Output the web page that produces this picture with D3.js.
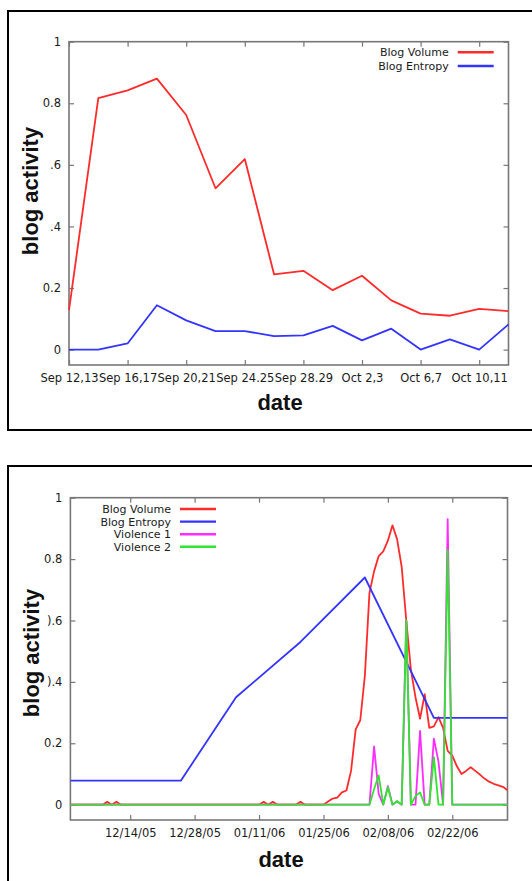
<!DOCTYPE html>
<html>
<head>
<meta charset="utf-8">
<script src="https://cdn.jsdelivr.net/npm/d3@7"></script>
<style>
  body { margin: 0; background: #fff; }
  .tick text { font-family: "DejaVu Sans", sans-serif; font-size: 11.5px; fill: #1a1a1a; }
  .tick line { stroke: #777; stroke-width: 1.2; }
  .legend text { font-family: "DejaVu Sans", sans-serif; font-size: 11px; fill: #1a1a1a; }
  .title { font-family: "Liberation Sans", Arial, sans-serif; font-weight: bold; font-size: 22px; fill: #111; }
</style>
</head>
<body>
<script>
// ---- top chart data (one point per two-day bin) ----
var topVolume  = [0.128, 0.817, 0.842, 0.88, 0.762, 0.524, 0.619, 0.244, 0.256, 0.193, 0.24, 0.16, 0.117, 0.11, 0.132, 0.125];
var topEntropy = [0, 0, 0.02, 0.144, 0.095, 0.06, 0.06, 0.044, 0.046, 0.077, 0.03, 0.068, 0, 0.033, 0, 0.082];
var topTickLabels = ["Sep 12,13", "Sep 16,17", "Sep 20,21", "Sep 24.25", "Sep 28.29", "Oct 2,3", "Oct 6,7", "Oct 10,11"];
var topYLabels = ["0", "0.2", ".4", ".6", "0.8", "1"];

// ---- bottom chart data (daily from 12/01/05) ----
var volDec = [0,0,0,0,0,0,0,0,0.009,0,0.009,0,0,0,0,0,0,0,0,0,0,0,0,0,0,0,0,0,0,0,0];
var volJan = [0,0,0,0,0,0,0,0,0,0,0,0.009,0,0.009,0,0,0,0,0,0.009,0,0,0,0,0,0.01,0.02,0.023,0.04,0.046,0.11];
var volFeb = [0.245,0.275,0.42,0.69,0.76,0.81,0.825,0.86,0.91,0.865,0.775,0.6,0.44,0.35,0.28,0.36,0.25,0.255,0.285,0.25,0.175,0.16,0.125,0.1,0.11,0.122,0.11,0.098];
var volMar = [0.085,0.075,0.068,0.063,0.058,0.047];

var vio1Dec = [0,0,0,0,0,0,0,0,0,0,0,0,0,0,0,0,0,0,0,0,0,0,0,0,0,0,0,0,0,0,0];
var vio1Jan = [0,0,0,0,0,0,0,0,0,0,0,0,0,0,0,0,0,0,0,0,0,0,0,0,0,0,0,0,0,0,0];
var vio1Feb = [0,0,0,0,0.19,0.035,0,0.06,0,0.01,0,0.6,0,0,0.24,0,0,0.215,0.14,0,0.93,0,0,0,0,0,0,0];
var vio1Mar = [0,0,0,0,0,0];

var vio2Dec = [0,0,0,0,0,0,0,0,0,0,0,0,0,0,0,0,0,0,0,0,0,0,0,0,0,0,0,0,0,0,0];
var vio2Jan = [0,0,0,0,0,0,0,0,0,0,0,0,0,0,0,0,0,0,0,0,0,0,0,0,0,0,0,0,0,0,0];
var vio2Feb = [0,0,0,0,0.05,0.095,0,0.057,0,0.012,0,0.6,0,0.028,0.04,0,0,0.155,0,0,0.83,0,0,0,0,0,0,0];
var vio2Mar = [0,0,0,0,0,0];

var entropyDates = ["12/01/05", "12/25/05", "01/06/06", "01/20/06", "02/03/06", "02/18/06", "03/06/06"];
var entropyVals  = [0.078, 0.078, 0.35, 0.53, 0.74, 0.283, 0.283];

var bottomTickLabels = ["12/14/05", "12/28/05", "01/11/06", "01/25/06", "02/08/06", "02/22/06"];
var bottomYLabels = ["0", "0.2", ").4", ").6", "0.8", "1"];
var yTicks = [0, 0.2, 0.4, 0.6, 0.8, 1];

var colors = { volume: "#ff2b2b", entropy: "#3434ff", v1: "#ff2cff", v2: "#2ee62e" };

var parseDate = d3.utcParse("%m/%d/%y");
var firstDay = parseDate("12/01/05");

var svg = d3.select("body").append("svg")
    .attr("width", 532)
    .attr("height", 881);

// panel borders
svg.append("rect").attr("x", 8).attr("y", 11).attr("width", 560).attr("height", 419)
    .attr("fill", "none").attr("stroke", "#000").attr("stroke-width", 2);
svg.append("rect").attr("x", 8).attr("y", 466).attr("width", 560).attr("height", 500)
    .attr("fill", "none").attr("stroke", "#000").attr("stroke-width", 2);

// box with inward ticks on all four sides
function drawFrame(x, y, xTickVals, xFormat, yFormat) {
  var g = svg.append("g");
  var x0 = x.range()[0], x1 = x.range()[1], y0 = y.range()[0], y1 = y.range()[1];

  g.append("g").attr("transform", "translate(0," + y0 + ")")
    .call(d3.axisBottom(x).tickValues(xTickVals).tickFormat(xFormat).tickSizeInner(-5).tickSizeOuter(0).tickPadding(9));
  g.append("g").attr("transform", "translate(0," + y1 + ")")
    .call(d3.axisTop(x).tickValues(xTickVals).tickFormat("").tickSizeInner(-5).tickSizeOuter(0));
  g.append("g").attr("transform", "translate(" + x0 + ",0)")
    .call(d3.axisLeft(y).tickValues(yTicks).tickFormat(yFormat).tickSizeInner(-5).tickSizeOuter(0).tickPadding(8));
  g.append("g").attr("transform", "translate(" + x1 + ",0)")
    .call(d3.axisRight(y).tickValues(yTicks).tickFormat("").tickSizeInner(-5).tickSizeOuter(0));

  g.selectAll(".domain").remove();
  g.selectAll("g").attr("font-family", null).attr("font-size", null);

  g.append("rect")
    .attr("x", x0).attr("y", y1)
    .attr("width", x1 - x0).attr("height", y0 - y1)
    .attr("fill", "none").attr("stroke", "#777").attr("stroke-width", 1.6);
}

function drawLine(data, x, y, color) {
  svg.append("path")
    .datum(data)
    .attr("fill", "none")
    .attr("stroke", color)
    .attr("stroke-width", 1.8)
    .attr("stroke-linejoin", "round")
    .attr("d", d3.line().x(function(d) { return x(d.x); }).y(function(d) { return y(d.y); }));
}

function drawLegend(items, textRight, top, rowH) {
  var lg = svg.append("g").attr("class", "legend");
  items.forEach(function(it, i) {
    var cy = top + i * rowH;
    lg.append("text").attr("x", textRight).attr("y", cy + 4)
      .attr("text-anchor", "end").text(it.name);
    lg.append("line").attr("x1", textRight + 9).attr("x2", textRight + 45)
      .attr("y1", cy).attr("y2", cy)
      .attr("stroke", it.color).attr("stroke-width", 2.4);
  });
}

// ================= top chart =================
var xTop = d3.scaleLinear().domain([0, topVolume.length - 1]).range([69, 508.5]);
var yTop = d3.scaleLinear().domain([-0.05, 1]).range([365, 41.7]);

var topTickIdx = topTickLabels.map(function(d, i) { return i * 2; });
drawFrame(xTop, yTop, topTickIdx,
  function(d) { return topTickLabels[d / 2]; },
  function(d, i) { return topYLabels[i]; });

drawLine(topVolume.map(function(v, i) { return { x: i, y: v }; }), xTop, yTop, colors.volume);
drawLine(topEntropy.map(function(v, i) { return { x: i, y: v }; }), xTop, yTop, colors.entropy);

drawLegend([
  { name: "Blog Volume", color: colors.volume },
  { name: "Blog Entropy", color: colors.entropy }
], 448.7, 52.3, 13.7);

svg.append("text").attr("class", "title")
  .attr("transform", "translate(37.7,191) rotate(-90)")
  .attr("text-anchor", "middle").text("blog activity");
svg.append("text").attr("class", "title")
  .attr("x", 280).attr("y", 410).attr("text-anchor", "middle").text("date");

// ================= bottom chart =================
var blogVolume = volDec.concat(volJan, volFeb, volMar);
var violence1 = vio1Dec.concat(vio1Jan, vio1Feb, vio1Mar);
var violence2 = vio2Dec.concat(vio2Jan, vio2Feb, vio2Mar);

function daily(vals) {
  return vals.map(function(v, i) { return { x: d3.utcDay.offset(firstDay, i), y: v }; });
}

var xBot = d3.scaleUtc()
  .domain([firstDay, parseDate("03/06/06")])
  .range([70.4, 507.5]);
var yBot = d3.scaleLinear().domain([-0.05, 1]).range([820, 497.7]);

var botTickDates = bottomTickLabels.map(parseDate);
drawFrame(xBot, yBot, botTickDates, d3.utcFormat("%m/%d/%y"),
  function(d, i) { return bottomYLabels[i]; });

drawLine(daily(blogVolume), xBot, yBot, colors.volume);
drawLine(entropyDates.map(function(d, i) { return { x: parseDate(d), y: entropyVals[i] }; }), xBot, yBot, colors.entropy);
drawLine(daily(violence1), xBot, yBot, colors.v1);
drawLine(daily(violence2), xBot, yBot, colors.v2);

drawLegend([
  { name: "Blog Volume", color: colors.volume },
  { name: "Blog Entropy", color: colors.entropy },
  { name: "Violence 1", color: colors.v1 },
  { name: "Violence 2", color: colors.v2 }
], 171, 509, 12.6);

svg.append("text").attr("class", "title")
  .attr("transform", "translate(38.7,653) rotate(-90)")
  .attr("text-anchor", "middle").text("blog activity");
svg.append("text").attr("class", "title")
  .attr("x", 281).attr("y", 867).attr("text-anchor", "middle").text("date");
</script>
</body>
</html>
